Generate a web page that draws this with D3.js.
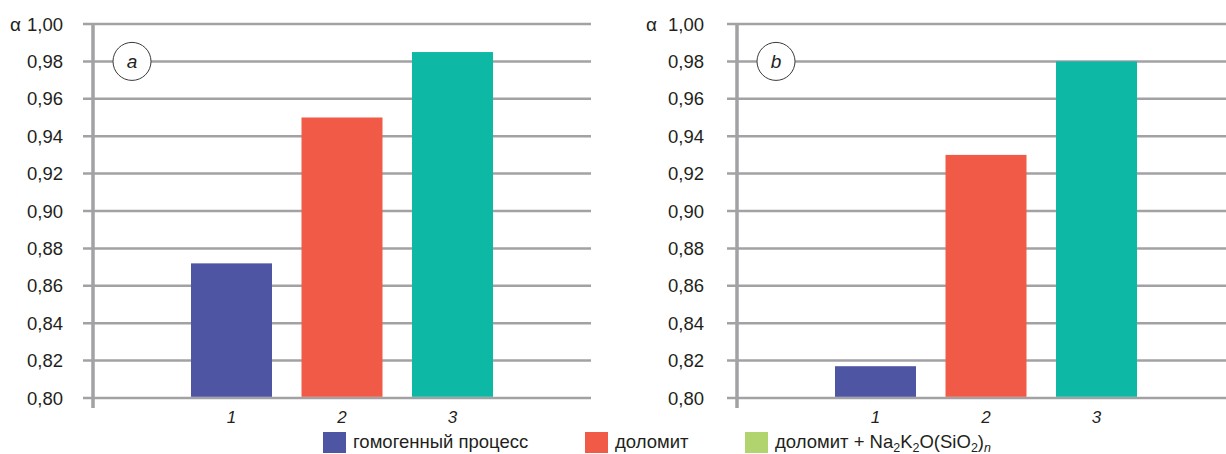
<!DOCTYPE html>
<html>
<head>
<meta charset="utf-8">
<script src="https://cdn.jsdelivr.net/npm/d3@7"></script>
<style>
  html, body { margin: 0; padding: 0; background: #fff; }
  svg text { font-family: "Liberation Sans", Arial, sans-serif; fill: #231f20; }
</style>
</head>
<body>
<svg id="chart" width="1226" height="454"></svg>
<script>
// Process categories along the x axis
const categories = ["1", "2", "3"];
// Degree of conversion α per process, panel a and panel b
const valuesA = [0.872, 0.950, 0.985];
const valuesB = [0.817, 0.930, 0.980];
const panelLabels = ["a", "b"];
// y axis ticks
const yTicks = [0.80, 0.82, 0.84, 0.86, 0.88, 0.90, 0.92, 0.94, 0.96, 0.98, 1.00];
// Legend entries
const legendLabels = ["гомогенный процесс", "доломит", "доломит + Na₂K₂O(SiO₂)ₙ"];
const barColors = ["#4e55a3", "#f05a46", "#0db8a5"];
const legendColors = ["#4e55a3", "#f05a46", "#b2d46e"];

const svg = d3.select("#chart");
const fmt = d3.formatLocale({ decimal: ",", thousands: " ", grouping: [3], currency: ["", ""] }).format(".2f");

const y = d3.scaleLinear().domain([0.80, 1.00]).range([398, 24]);
const plotW = 498;
const gridColor = "#a2a2a5";

function drawPanel(axisX, values, label, labelGap, alphaX) {
  const g = svg.append("g").attr("transform", `translate(${axisX},0)`);
  const x = d3.scaleBand().domain(categories).range([0, plotW])
    .paddingInner(0.267).paddingOuter(0.887).align(0.5);

  // horizontal grid
  g.selectAll("line.grid").data(yTicks).join("line")
    .attr("class", "grid")
    .attr("x1", -10).attr("x2", plotW)
    .attr("y1", d => y(d)).attr("y2", d => y(d))
    .attr("stroke", gridColor).attr("stroke-width", 2.5);

  // bars
  g.selectAll("rect.bar").data(values).join("rect")
    .attr("class", "bar")
    .attr("x", (d, i) => x(categories[i]))
    .attr("width", x.bandwidth())
    .attr("y", d => y(d))
    .attr("height", d => y(0.80) - 1.2 - y(d))
    .attr("fill", (d, i) => barColors[i]);

  // vertical axis
  g.append("line")
    .attr("x1", 0).attr("x2", 0)
    .attr("y1", y(1.00) - 1).attr("y2", 408)
    .attr("stroke", gridColor).attr("stroke-width", 3.5);

  // tick labels
  g.selectAll("text.ytick").data(yTicks).join("text")
    .attr("class", "ytick")
    .attr("x", -labelGap).attr("y", d => y(d) + 6.5)
    .attr("text-anchor", "end")
    .attr("font-size", 18.5)
    .text(d => fmt(d));

  // α symbol beside the top label
  g.append("text")
    .attr("x", alphaX).attr("y", y(1.00) + 6.5)
    .attr("font-family", "Liberation Serif, serif")
    .attr("font-size", 19)
    .text("α");

  // category labels
  g.selectAll("text.xtick").data(categories).join("text")
    .attr("class", "xtick")
    .attr("x", d => x(d) + x.bandwidth() / 2)
    .attr("y", 423)
    .attr("text-anchor", "middle")
    .attr("font-size", 17)
    .attr("font-style", "italic")
    .text(d => d);

  // panel marker
  const cx = 39, cy = y(0.98);
  g.append("circle").attr("cx", cx).attr("cy", cy).attr("r", 19)
    .attr("fill", "#fff").attr("stroke", "#3a3a3a").attr("stroke-width", 1);
  g.append("text").attr("x", cx).attr("y", cy + 6.5)
    .attr("text-anchor", "middle").attr("font-size", 19)
    .attr("font-style", "italic").text(label);
}

drawPanel(93, valuesA, panelLabels[0], 30, -83);
drawPanel(737, valuesB, panelLabels[1], 33, -91);

// legend
const legendX = [323, 585, 745];
const lg = svg.append("g");
legendLabels.forEach((lab, i) => {
  lg.append("rect").attr("x", legendX[i]).attr("y", 432)
    .attr("width", 23).attr("height", 21).attr("fill", legendColors[i]);
  const t = lg.append("text").attr("x", legendX[i] + 30).attr("y", 448).attr("font-size", 18.5);
  if (i === 2) {
    // chemical formula with subscripts; 1 = numeric subscript, 2 = italic subscript
    const parts = [["доломит + Na", 0], ["2", 1], ["K", 0], ["2", 1], ["O(SiO", 0], ["2", 1], [")", 0], ["n", 2]];
    let prevSub = false;
    parts.forEach(([s, sub]) => {
      const isSub = sub !== 0;
      const dy = isSub && !prevSub ? 4 : (!isSub && prevSub ? -4 : 0);
      const ts = t.append("tspan").attr("dy", dy).text(s);
      if (isSub) ts.attr("font-size", 12.5);
      if (sub === 2) ts.attr("font-style", "italic");
      prevSub = isSub;
    });
  } else {
    t.text(lab);
  }
});
</script>
</body>
</html>
